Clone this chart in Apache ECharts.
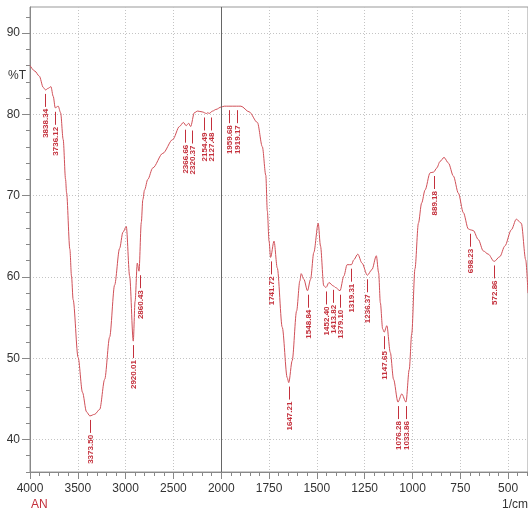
<!DOCTYPE html>
<html>
<head>
<meta charset="utf-8">
<title>FTIR AN</title>
<script src="https://cdn.jsdelivr.net/npm/echarts@6/dist/echarts.min.js"></script>
<style>
  html, body { margin: 0; padding: 0; background: #fff; }
  #main { width: 528px; height: 514px; }
</style>
</head>
<body>
<div id="main"></div>
<script>
// spectrum (wavenumber 1/cm, %T)
var waveNumbers = [4000, 3948, 3903, 3861, 3838, 3809, 3781, 3757, 3736, 3705, 3680, 3653, 3628, 3618, 3583, 3566, 3549, 3497, 3451, 3409, 3374, 3323, 3271, 3219, 3167, 3115, 3063, 3028, 2993, 2958, 2920, 2901, 2878, 2860, 2836, 2820, 2802, 2768, 2716, 2611, 2507, 2437, 2396, 2367, 2341, 2320, 2281, 2247, 2200, 2154, 2140, 2127, 2090, 2055, 2000, 1984, 1960, 1919, 1897, 1854, 1811, 1785, 1767, 1759, 1750, 1742, 1724, 1707, 1681, 1655, 1647, 1629, 1606, 1589, 1582, 1568, 1549, 1533, 1516, 1493, 1481, 1464, 1452, 1437, 1414, 1403, 1379, 1359, 1342, 1319, 1307, 1286, 1264, 1236, 1212, 1189, 1177, 1168, 1156, 1148, 1134, 1116, 1099, 1076, 1056, 1034, 1017, 1004, 987, 969, 952, 934, 908, 889, 873, 856, 835, 812, 786, 760, 734, 708, 698, 682, 656, 630, 604, 573, 543, 517, 483, 457, 431, 408, 396];
var transmittance = [86.0, 85.3, 84.7, 83.3, 83.0, 83.2, 83.4, 82.2, 80.8, 81.0, 80.2, 76.9, 72.0, 70.4, 63.4, 60.1, 57.2, 50.1, 45.8, 43.4, 42.9, 43.1, 43.7, 47.4, 52.6, 59.0, 63.5, 65.5, 66.2, 60.1, 52.1, 57.0, 61.7, 60.7, 66.7, 69.5, 70.7, 72.0, 73.4, 75.2, 76.9, 78.5, 79.0, 78.6, 78.9, 78.5, 80.2, 80.4, 80.3, 80.1, 80.2, 80.1, 80.4, 80.6, 80.9, 81.0, 81.0, 81.0, 81.0, 80.3, 79.0, 76.0, 72.5, 68.1, 64.4, 62.4, 64.4, 61.1, 53.8, 47.6, 47.0, 49.7, 55.8, 59.5, 60.4, 59.7, 58.3, 59.7, 63.0, 66.6, 63.8, 58.9, 58.7, 59.3, 58.9, 58.7, 58.3, 60.1, 61.5, 61.5, 62.1, 62.8, 61.7, 60.2, 60.9, 62.6, 60.5, 56.8, 53.6, 53.2, 54.0, 50.7, 47.4, 44.6, 45.6, 44.6, 48.6, 53.0, 61.0, 66.6, 69.1, 70.7, 72.8, 72.9, 73.4, 74.2, 74.7, 74.0, 72.4, 70.3, 67.9, 65.9, 65.8, 65.7, 64.6, 63.2, 62.8, 61.9, 62.5, 63.8, 65.8, 67.1, 66.6, 62.1, 58.0];

// labelled peaks
var peakWave = [3838.34, 3736.12, 3373.50, 2920.01, 2860.43, 2366.66, 2320.37, 2154.49, 2127.48, 1959.68, 1919.17, 1741.72, 1647.21, 1548.84, 1452.40, 1413.82, 1379.10, 1319.31, 1236.37, 1147.65, 1076.28, 1033.86, 889.18, 698.23, 572.86];
var peakT = [83.0, 80.8, 42.9, 52.1, 60.7, 78.6, 78.5, 80.1, 80.1, 81.0, 81.0, 62.4, 47.0, 58.3, 58.7, 58.9, 58.3, 61.5, 60.2, 53.2, 44.6, 44.6, 72.9, 65.8, 61.9];

var xTicks = [4000, 3500, 3000, 2500, 2000, 1750, 1500, 1250, 1000, 750, 500];
var yTicks = [40, 50, 60, 70, 80, 90];

// the instrument doubles the scale below 2000 1/cm
function toU(wn) {
  return wn >= 2000 ? (4000 - wn) / 2 : 1000 + (2000 - wn);
}
function fromU(u) {
  return u <= 1000 ? 4000 - 2 * u : 2000 - (u - 1000);
}

var curve = waveNumbers.map(function (w, i) { return [toU(w), transmittance[i]]; });
var peaks = peakWave.map(function (w, i) { return [toU(w), peakT[i]]; });

var minorX = [];
for (var u = 0; u <= 2600; u += 50) minorX.push(u);
var minorY = [];
for (var t = 36; t <= 92; t += 2) minorY.push(t);

var FONT = '"Liberation Sans Narrow", "Liberation Sans", Arial, sans-serif';
var RED = "#c4303c";
var LINE = "#d05058";
var GAP = 7; // min distance between two peak labels

// spread crowded peak labels a little, like the instrument software does
function labelXs(api) {
  var xs = peaks.map(function (p) { return api.coord(p)[0]; });
  var lx = xs.slice();
  for (var k = 0; k < 30; k++) {
    for (var i = 1; i < lx.length; i++) {
      var d = lx[i] - lx[i - 1];
      if (d < GAP) {
        lx[i - 1] -= (GAP - d) / 2;
        lx[i] += (GAP - d) / 2;
      }
    }
  }
  return lx;
}

var chart = echarts.init(document.getElementById("main"));
chart.setOption({
  animation: false,
  backgroundColor: "#fff",
  grid: {
    left: 30, top: 7, right: -2, bottom: 42,
    show: true, borderColor: "#999", borderWidth: 1,
  },
  xAxis: [
    {
      type: "value", min: 0, max: 2604, position: "bottom", offset: 0,
      axisLine: { lineStyle: { color: "#888" } },
      axisTick: { customValues: xTicks.map(toU), length: 7, lineStyle: { color: "#888" } },
      axisLabel: {
        customValues: xTicks.map(toU), margin: 11,
        color: "#333", fontSize: 12, fontFamily: FONT,
        formatter: function (v) { return String(Math.round(fromU(v))); },
      },
      splitLine: { show: true, lineStyle: { color: "#c4c4c4", type: [1, 2] } },
    },
    {
      type: "value", min: 0, max: 2604, position: "bottom", offset: 0,
      axisLine: { show: false },
      axisTick: { customValues: minorX, length: 4, lineStyle: { color: "#888" } },
      axisLabel: { show: false },
      splitLine: { show: false },
    },
  ],
  yAxis: [
    {
      type: "value", min: 36, max: 93.2, position: "left", offset: 0,
      axisLine: { show: true, lineStyle: { color: "#888" } },
      axisTick: { show: true, customValues: yTicks, length: 8, lineStyle: { color: "#888" } },
      axisLabel: { customValues: yTicks, margin: 10, color: "#333", fontSize: 12, fontFamily: FONT },
      splitLine: { show: true, lineStyle: { color: "#c4c4c4", type: [1, 2] } },
    },
    {
      type: "value", min: 36, max: 93.2, position: "left", offset: 0,
      axisLine: { show: false },
      axisTick: { show: true, customValues: minorY, length: 4, lineStyle: { color: "#888" } },
      axisLabel: { show: false },
      splitLine: { show: false },
    },
  ],
  series: [
    {
      type: "line",
      data: curve,
      symbol: "none",
      smooth: 0.3,
      smoothMonotone: "x",
      lineStyle: { color: LINE, width: 1 },
      markLine: {
        silent: true, symbol: "none", label: { show: false },
        lineStyle: { color: "#666", type: "solid", width: 1 },
        data: [{ xAxis: toU(2000) }],
      },
      z: 3,
    },
    {
      type: "custom",
      data: peaks,
      clip: false,
      z: 4,
      renderItem: function (params, api) {
        var p = api.coord([api.value(0), api.value(1)]);
        var x = Math.round(labelXs(api)[params.dataIndex]) + 0.5;
        return {
          type: "group",
          children: [
            {
              type: "line",
              shape: { x1: x, y1: p[1] + 4, x2: x, y2: p[1] + 17 },
              style: { stroke: RED, lineWidth: 1 },
            },
            {
              type: "text",
              x: x, y: p[1] + 19,
              rotation: Math.PI / 2,
              style: {
                text: peakWave[params.dataIndex].toFixed(2),
                align: "right", verticalAlign: "middle",
                fill: RED, font: 'bold 8px "Liberation Sans", Arial, sans-serif',
              },
            },
          ],
        };
      },
    },
  ],
  graphic: [
    { type: "text", left: 8, top: 70, style: { text: "%T", fill: "#333", font: "12px " + FONT } },
    { type: "text", left: 31, top: 499, style: { text: "AN", fill: RED, font: "12px " + FONT } },
    { type: "text", right: 0, top: 499, style: { text: "1/cm", fill: "#333", font: "12px " + FONT } },
  ],
});
</script>
</body>
</html>
